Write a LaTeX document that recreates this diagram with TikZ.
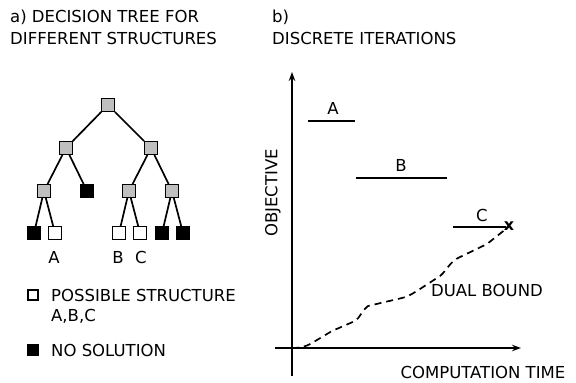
\documentclass[tikz,border=0pt]{standalone}
\usepackage{fontspec}
\setmainfont{DejaVu Sans}
\usetikzlibrary{arrows.meta}
\begin{document}
\begin{tikzpicture}[x=1pt,y=-1pt,
  lbl/.style={inner sep=0pt,font=\fontsize{16.5}{19}\selectfont},
  inner/.style={draw=black,fill=black!25,line width=1.4pt,minimum size=12.5pt,inner sep=0pt},
  nosol/.style={draw=black,fill=black,line width=1.4pt,minimum size=12.5pt,inner sep=0pt},
  struct/.style={draw=black,fill=white,line width=1.4pt,minimum size=12.5pt,inner sep=0pt},
  edge/.style={line width=1.7pt},
  axis/.style={line width=1.6pt,-{Stealth[length=9pt,width=6.5pt]}},
  level/.style={line width=1.8pt},
  bound/.style={line width=1.7pt,dash pattern=on 7pt off 5pt}]
\useasboundingbox (0,0) rectangle (576,383);

% headings
\node[lbl,anchor=west] (ha1) at (10,17) {a) DECISION TREE FOR};
\node[lbl,anchor=west] (ha2) at (10,38) {DIFFERENT STRUCTURES};
\node[lbl,anchor=west] (hb1) at (272,17) {b)};
\node[lbl,anchor=west] (hb2) at (272,38) {DISCRETE ITERATIONS};

% decision tree
\node[inner] (r)  at (108,105) {};
\node[inner] (l)  at (66,148) {};
\node[inner] (rr) at (151,148) {};
\node[inner] (ll) at (44,191) {};
\node[nosol] (lr) at (87,191) {};
\node[inner] (rl) at (129,191) {};
\node[inner] (rx) at (172,191) {};
\node[nosol] (t1) at (34,233) {};
\node[struct] (t2) at (55,233) {};
\node[struct] (t3) at (119,233) {};
\node[struct] (t4) at (140,233) {};
\node[nosol] (t5) at (162,233) {};
\node[nosol] (t6) at (183,233) {};
\draw[edge] (r) -- (l);
\draw[edge] (r) -- (rr);
\draw[edge] (l) -- (ll);
\draw[edge] (l) -- (lr);
\draw[edge] (rr) -- (rl);
\draw[edge] (rr) -- (rx);
\draw[edge] (ll) -- (t1);
\draw[edge] (ll) -- (t2);
\draw[edge] (rl) -- (t3);
\draw[edge] (rl) -- (t4);
\draw[edge] (rx) -- (t5);
\draw[edge] (rx) -- (t6);
\node[lbl] (la) at (54,257) {A};
\node[lbl] (lb) at (118,257) {B};
\node[lbl] (lc) at (141,257) {C};

% legend
\node[struct,minimum size=10pt] (k1) at (33,295) {};
\node[lbl,anchor=west] (k1t) at (51,295) {POSSIBLE STRUCTURE};
\node[lbl,anchor=west] (k1u) at (51,316) {A,B,C};
\node[nosol,minimum size=10pt] (k2) at (33,350) {};
\node[lbl,anchor=west] (k2t) at (51,350) {NO SOLUTION};

% chart axes
\coordinate (yb) at (292,376);
\coordinate (yt) at (292,72);
\coordinate (xl) at (275,348);
\coordinate (xr) at (521,348);
\draw[axis] (yb) -- (yt);
\draw[axis] (xl) -- (xr);
\node[lbl,rotate=90] (yl) at (273,193) {OBJECTIVE};
\node[lbl] (xlab) at (483,372) {COMPUTATION TIME};

% incumbent levels
\coordinate (a0) at (308,121); \coordinate (a1) at (355,121);
\coordinate (b0) at (356,178); \coordinate (b1) at (447,178);
\coordinate (c0) at (453,227); \coordinate (c1) at (506,227);
\draw[level] (a0) -- (a1);
\draw[level] (b0) -- (b1);
\draw[level] (c0) -- (c1);
\node[lbl] (na) at (333,108) {A};
\node[lbl] (nb) at (401,165) {B};
\node[lbl] (nc) at (482,215) {C};
\node[inner sep=0pt,font=\fontsize{16}{18}\selectfont\bfseries] (opt) at (509,226.5) {x};

% dual bound
\draw[bound] (292,348) .. controls (300,348) and (305,347) .. (312,343)
  -- (332,331) -- (355,321) .. controls (360,318) and (362,310) .. (368,306)
  -- (402,298) .. controls (410,296) and (415,292) .. (420,289)
  -- (440,276) .. controls (447,270) and (450,262) .. (458,258)
  -- (487,244) -- (opt.center);
\node[lbl] (db) at (487,290) {DUAL BOUND};
\end{tikzpicture}
\end{document}
